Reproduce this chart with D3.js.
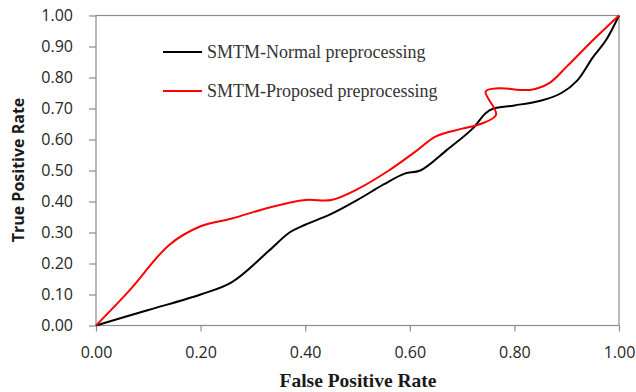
<!DOCTYPE html>
<html>
<head>
<meta charset="utf-8">
<script src="https://cdn.jsdelivr.net/npm/d3@7"></script>
<style>
  body { margin: 0; background: #fff; }
  svg { display: block; }
</style>
</head>
<body>
<div id="chart"></div>
<script>
// ROC points
var normalFpr = [0, 0.10, 0.20, 0.26, 0.33, 0.37, 0.40, 0.45, 0.50, 0.55, 0.59, 0.62, 0.67, 0.72, 0.745, 0.76, 0.80, 0.85, 0.89, 0.92, 0.95, 0.975, 1.0];
var normalTpr = [0, 0.05, 0.10, 0.14, 0.24, 0.30, 0.325, 0.36, 0.405, 0.455, 0.49, 0.50, 0.565, 0.635, 0.685, 0.70, 0.71, 0.725, 0.75, 0.79, 0.865, 0.92, 1.0];

var proposedFpr = [0, 0.065, 0.14, 0.20, 0.26, 0.33, 0.40, 0.45, 0.50, 0.56, 0.61, 0.65, 0.70, 0.735, 0.765, 0.745, 0.77, 0.83, 0.865, 0.90, 0.95, 1.0];
var proposedTpr = [0, 0.115, 0.26, 0.32, 0.345, 0.38, 0.405, 0.405, 0.44, 0.50, 0.56, 0.61, 0.635, 0.65, 0.68, 0.755, 0.765, 0.76, 0.78, 0.835, 0.92, 1.0];

var xTicks = [0, 0.2, 0.4, 0.6, 0.8, 1.0];
var yTicks = [0, 0.1, 0.2, 0.3, 0.4, 0.5, 0.6, 0.7, 0.8, 0.9, 1.0];

var seriesNames = ["SMTM-Normal preprocessing", "SMTM-Proposed preprocessing"];
var seriesColors = ["#000000", "#ff0000"];

var width = 636, height = 392;
var margin = { top: 15.5, right: 17, bottom: 66.5, left: 96 };
var w = width - margin.left - margin.right;
var h = height - margin.top - margin.bottom;

var svg = d3.select("#chart").append("svg")
    .attr("width", width)
    .attr("height", height);

var g = svg.append("g")
    .attr("transform", "translate(" + margin.left + "," + margin.top + ")");

var x = d3.scaleLinear().domain([0, 1]).range([0, w]);
var y = d3.scaleLinear().domain([0, 1]).range([h, 0]);

// plot frame
g.append("rect")
    .attr("x", 0).attr("y", 0)
    .attr("width", w).attr("height", h)
    .attr("fill", "none")
    .attr("stroke", "#8c8c8c")
    .attr("stroke-width", 1.2);

var tickFont = "'Open Sans', sans-serif";
var serif = "'Liberation Serif', 'Times New Roman', serif";

var xaxis = g.append("g")
    .attr("transform", "translate(0," + h + ")")
    .call(d3.axisBottom(x).tickValues(xTicks).tickSize(6).tickPadding(15).tickFormat(d3.format(".2f")));
xaxis.select("path").remove();
xaxis.selectAll("line").attr("stroke", "#8c8c8c").attr("stroke-width", 1.2);
xaxis.selectAll("text")
    .attr("font-family", tickFont)
    .attr("font-size", "16px")
    .attr("fill", "#262626");

var yaxis = g.append("g")
    .call(d3.axisLeft(y).tickValues(yTicks).tickSize(7).tickPadding(16).tickFormat(d3.format(".2f")));
yaxis.select("path").remove();
yaxis.selectAll("line").attr("stroke", "#8c8c8c").attr("stroke-width", 1.2);
yaxis.selectAll("text")
    .attr("font-family", tickFont)
    .attr("font-size", "16px")
    .attr("fill", "#262626");

// curves, Excel-like smoothing
var line = d3.line()
    .x(function (d) { return x(d[0]); })
    .y(function (d) { return y(d[1]); })
    .curve(d3.curveCatmullRom.alpha(0.5));

var allSeries = [
    d3.zip(normalFpr, normalTpr),
    d3.zip(proposedFpr, proposedTpr)
];

g.selectAll("path.roc")
    .data(allSeries)
    .enter()
    .append("path")
    .attr("class", "roc")
    .attr("d", line)
    .attr("fill", "none")
    .attr("stroke", function (d, i) { return seriesColors[i]; })
    .attr("stroke-width", 2);

// legend
var legend = svg.append("g");
seriesNames.forEach(function (name, i) {
    var ly = 52 + i * 39;
    legend.append("line")
        .attr("x1", 163).attr("x2", 202)
        .attr("y1", ly).attr("y2", ly)
        .attr("stroke", seriesColors[i])
        .attr("stroke-width", 2);
    legend.append("text")
        .attr("x", 207).attr("y", ly + 6)
        .attr("font-family", serif)
        .attr("font-size", "18px")
        .attr("fill", "#333")
        .text(name);
});

// axis titles
svg.append("text")
    .attr("x", 358)
    .attr("y", 387)
    .attr("text-anchor", "middle")
    .attr("font-family", serif)
    .attr("font-weight", "bold")
    .attr("font-size", "19.5px")
    .attr("fill", "#1a1a1a")
    .text("False Positive Rate");

svg.append("text")
    .attr("transform", "translate(24," + 170 + ") rotate(-90)")
    .attr("text-anchor", "middle")
    .attr("font-family", tickFont)
    .attr("font-weight", "bold")
    .attr("font-size", "16px")
    .attr("fill", "#1a1a1a")
    .text("True Positive Rate");
</script>
</body>
</html>
